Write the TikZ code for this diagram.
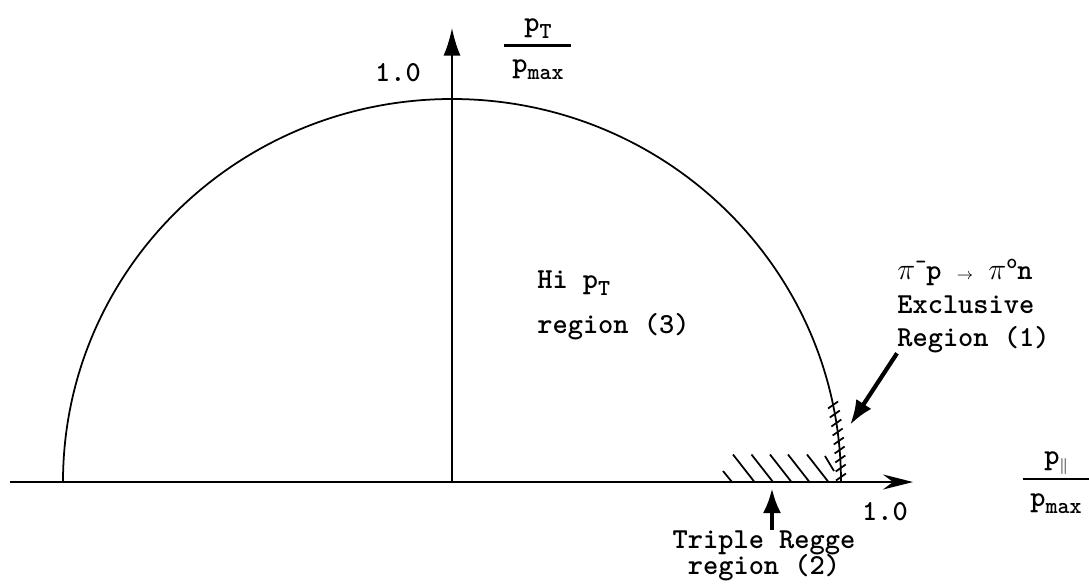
\documentclass[tikz,border=0pt]{standalone}
\usepackage{amsmath}
\usepackage{fontspec}
\usetikzlibrary{arrows.meta}

% lowered subscript in the typewriter face
\newcommand\lo[1]{\raisebox{-0.55ex}{\fontsize{13}{13}\selectfont #1}}
\newcommand\hi[1]{\raisebox{0.9ex}{\fontsize{12}{12}\selectfont #1}}
\newcommand\ratio[1]{\begin{tabular}{@{}c@{}}#1\\[-9.5pt]\rule{1.34cm}{1.4pt}\\[-3pt]p\lo{max}\end{tabular}}

\begin{document}
\begin{tikzpicture}[
    txt/.style     = {font=\ttfamily\bfseries\fontsize{16.5}{18}\selectfont, inner sep=0pt},
    axis/.style    = {line width=1.2pt},
    hatch/.style   = {line width=1pt},
    pointer/.style = {-{Latex[length=5mm, width=3.6mm]}, line width=2.4pt}
  ]
  \useasboundingbox (-9.04,-2.04) rectangle (12.74,9.64);

  % kinematic boundary (half ellipse, not quite a circle)
  \def\a{7.78}
  \def\b{7.66}
  \draw[line width=1pt] (-\a,0) arc[start angle=180, end angle=0, x radius=\a, y radius=\b];

  % axes
  \coordinate (xl) at (-8.84,0);
  \coordinate (xr) at (9.22,0);
  \coordinate (o)  at (0,0);
  \coordinate (yt) at (0,9.08);
  \draw[axis, -{Stealth[length=6mm, width=3mm, inset=2mm]}] (xl) -- (xr);
  \draw[axis, -{Latex[length=5.5mm, width=3.4mm]}] (o) -- (yt);

  % hatched regions
  \foreach \x in {5.62,5.99,6.36,6.72,7.1}
    \draw[hatch] (\x,0.55) -- ++(0.43,-0.55);
  \draw[hatch] (5.42,0.22) -- (5.6,0);
  \draw[hatch] (7.46,0.52) -- (7.64,0.22);
  \foreach \t in {0.1,0.28,...,1.7}
    \draw[hatch] ({\a*sqrt(1-(\t/\b)^2)},\t) ++(-0.1,-0.07) -- ++(0.2,0.14);

  % axis labels
  \node[txt] (ytick) at (-1.08,8.18) {1.0};
  \node[txt] (ylab)  at (1.72,8.72)  {\ratio{p\lo{T}}};
  \node[txt] (xtick) at (8.66,-0.6)  {1.0};
  \node[txt] (xlab)  at (12.08,0.06) {\ratio{p\lo{$\scriptstyle\parallel$}}};

  % regions
  \node[txt, align=left, anchor=west] (hipt) at (1.7,3.53) {Hi p\lo{T}\\[8pt]region (3)};
  \node[txt, align=left, anchor=west] (excl) at (8.9,3.52)
    {$\pi$\hi{-}p {\small$\rightarrow$} $\pi$\hi{o}n\\[1pt]Exclusive\\[1pt]Region (1)};
  \node[txt, align=center] (regge) at (6.24,-1.48) {Triple Regge\\[-3pt]region (2)};

  % pointers
  \coordinate (tip1) at (7.96,1.14);
  \coordinate (tip2) at (6.4,-0.12);
  \draw[pointer] (excl.south west) -- (tip1);
  \draw[pointer] (tip2 |- regge.north) -- (tip2);
\end{tikzpicture}
\end{document}
